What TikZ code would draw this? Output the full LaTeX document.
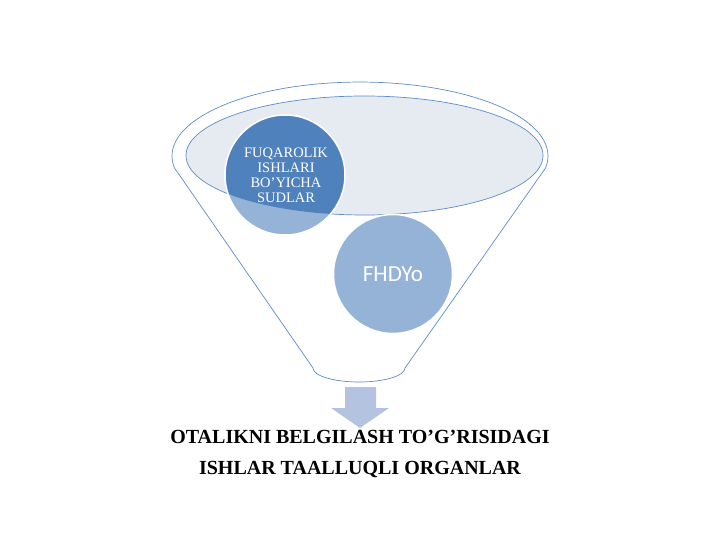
\documentclass[tikz,border=0pt]{standalone}
\usepackage{fontspec}
\usetikzlibrary{shapes.geometric}
\setmainfont{Liberation Serif}
\newfontfamily\calibrisub{Carlito}
\definecolor{lineblue}{RGB}{95,140,198}
\definecolor{darkblue}{RGB}{79,129,189}
\definecolor{lightblue}{RGB}{149,179,215}
\definecolor{ellfill}{RGB}{230,235,242}
\definecolor{arrowblue}{RGB}{180,196,224}
\begin{document}
\begin{tikzpicture}[x=1pt,y=-1pt,
  funnelline/.style={draw=lineblue,line width=0.7pt},
  circletext/.style={text=white,align=center,font=\fontsize{14.5}{15}\selectfont},
  bigtext/.style={font=\fontsize{20}{24}\selectfont\bfseries,text=black}]
\useasboundingbox (0,0) rectangle (720,540);
% funnel outline
\coordinate (fl) at (174.5,168);
\coordinate (fr) at (545.5,168);
\coordinate (bl) at (313,368);
\coordinate (br) at (405,368);
\draw[funnelline,fill=white] (fl) arc[start angle=189.3,end angle=-9.3,x radius=188pt,y radius=74pt]
  -- (br) arc[start angle=0,end angle=-180,x radius=46pt,y radius=14pt] -- cycle;
% inner ellipse
\node[ellipse, draw=lineblue, line width=0.7pt, fill=ellfill, minimum width=357pt, minimum height=119pt, inner sep=0pt] (ell) at (364.5,155.5) {};
% circle 1
\fill[lightblue] (285,175) circle[radius=60pt];
\begin{scope}
  \clip (364.5,155.5) ellipse[x radius=178.5pt,y radius=59.5pt];
  \fill[darkblue] (285,175) circle[radius=60pt];
\end{scope}
\node[circle, draw=white, line width=1.5pt, minimum size=120pt, inner sep=0pt] (c1) at (285,175) {};
\node[circletext] (t1) at (286,175) {FUQAROLIK\\ISHLARI\\BO’YICHA\\SUDLAR};
% circle 2
\node[circle, draw=white, line width=1.5pt, fill=lightblue, minimum size=119pt, inner sep=0pt, text=white, font=\calibrisub\fontsize{23}{25}\selectfont] (c2) at (393,274) {FHDYo};
% arrow
\fill[arrowblue] (345,387) -- (376,387) -- (376,408) -- (389,408) -- (360,428) -- (331,408) -- (345,408) -- cycle;
% bottom text
\node[bigtext] (l1) at (360,437) {OTALIKNI BELGILASH TO’G’RISIDAGI};
\node[bigtext] (l2) at (360,469) {ISHLAR TAALLUQLI ORGANLAR};
\end{tikzpicture}
\end{document}
